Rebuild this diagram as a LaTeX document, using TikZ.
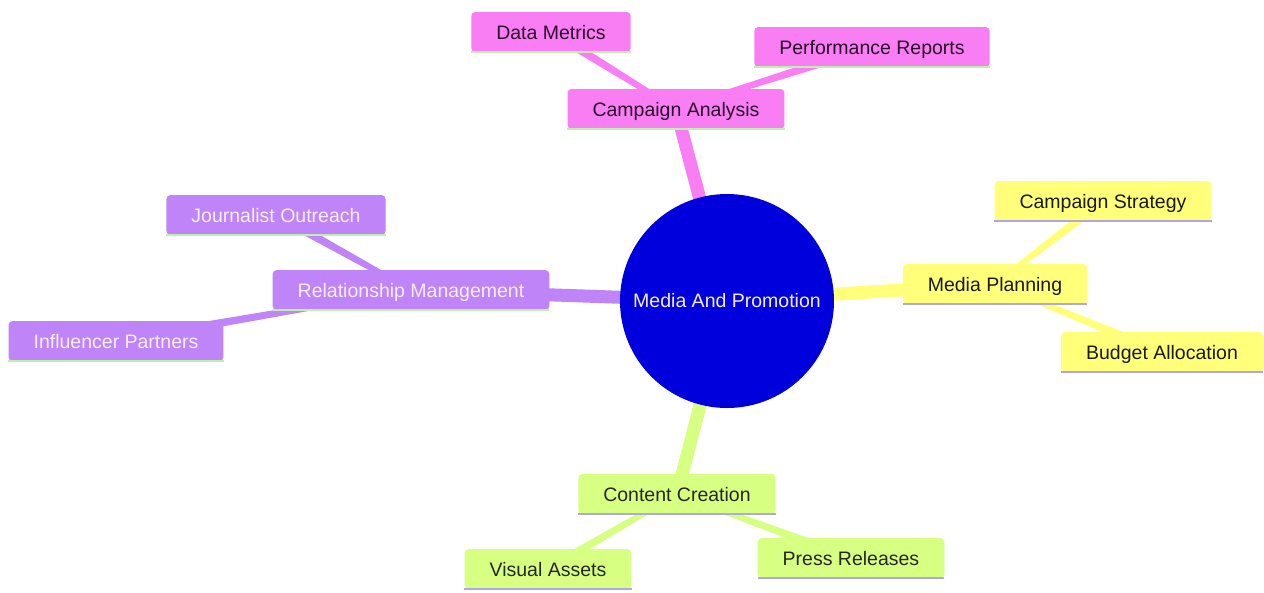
\documentclass[tikz,border=0pt]{standalone}
\usepackage{fontspec}
\setmainfont{Liberation Sans}
\usetikzlibrary{backgrounds,calc}
\definecolor{pinkc}{HTML}{F97EF4}
\definecolor{purpc}{HTML}{BF84F7}
\definecolor{yelc}{HTML}{FFFF7A}
\definecolor{grnc}{HTML}{D7FF82}
\definecolor{rootc}{HTML}{0000DD}
\definecolor{ulgreen}{HTML}{BDF0A8}
\definecolor{ullav}{HTML}{B0A6E6}
\definecolor{darktxt}{HTML}{2A0A2A}
\definecolor{lighttxt}{HTML}{F6EEFF}
\newcommand{\taperedge}[5]{\fill[#5] ($(#1)!#3!90:(#2)$) -- ($(#1)!#3!-90:(#2)$) -- ($(#2)!#4!90:(#1)$) -- ($(#2)!#4!-90:(#1)$) -- cycle;}
\begin{document}
\begin{tikzpicture}[x=1pt,y=-1pt,
  box/.style={rectangle, rounded corners=4pt, minimum height=40pt, inner xsep=25pt,
    font=\fontsize{19.5}{23}\selectfont, text height=16pt, text depth=2pt},
  ul/.style={append after command={(\tikzlastnode.south west) edge[draw=#1, line width=2.5pt] (\tikzlastnode.south east)}},
  pinkbox/.style={box, fill=pinkc, text=darktxt, ul=ulgreen},
  purpbox/.style={box, fill=purpc, text=lighttxt, ul=ulgreen},
  yelbox/.style={box, fill=yelc, text=black!90, ul=ullav},
  grnbox/.style={box, fill=grnc, text=black!85, ul=ullav}
]
\useasboundingbox (0,0) rectangle (1264,592);

\node[circle, fill=rootc, minimum size=214pt, inner sep=0pt, text=lighttxt,
  font=\fontsize{19.5}{23}\selectfont] (root) at (727,301) {Media And Promotion};

\node[pinkbox] (ca) at (676,109) {Campaign Analysis};
\node[pinkbox] (dm) at (551,32) {Data Metrics};
\node[pinkbox] (pr) at (872,47) {Performance Reports};

\node[yelbox] (mp) at (995,284) {Media Planning};
\node[yelbox] (cs) at (1103,201) {Campaign Strategy};
\node[yelbox] (ba) at (1162,352) {Budget Allocation};

\node[purpbox] (rm) at (411,290) {Relationship Management};
\node[purpbox] (jo) at (276,215) {Journalist Outreach};
\node[purpbox] (ip) at (116,341) {Influencer Partners};

\node[grnbox] (cc) at (677,494) {Content Creation};
\node[grnbox] (va) at (548,569) {Visual Assets};
\node[grnbox] (prs) at (851,558) {Press Releases};

\begin{scope}[on background layer]
  \fill[white] (0,0) rectangle (1264,592);
  \taperedge{root.center}{ca.center}{6.5pt}{6.5pt}{pinkc}
  \taperedge{ca.center}{dm.center}{2.5pt}{4.5pt}{pinkc}
  \taperedge{ca.center}{pr.center}{2.5pt}{4.5pt}{pinkc}
  \taperedge{root.center}{mp.center}{6.5pt}{6.5pt}{yelc}
  \taperedge{mp.center}{cs.center}{2.5pt}{4.5pt}{yelc}
  \taperedge{mp.center}{ba.center}{2.5pt}{4.5pt}{yelc}
  \taperedge{root.center}{rm.center}{6.5pt}{6.5pt}{purpc}
  \taperedge{rm.center}{jo.center}{2.5pt}{4.5pt}{purpc}
  \taperedge{rm.center}{ip.center}{2.5pt}{4.5pt}{purpc}
  \taperedge{root.center}{cc.center}{6.5pt}{6.5pt}{grnc}
  \taperedge{cc.center}{va.center}{2.5pt}{4.5pt}{grnc}
  \taperedge{cc.center}{prs.center}{2.5pt}{4.5pt}{grnc}
\end{scope}
\end{tikzpicture}
\end{document}
